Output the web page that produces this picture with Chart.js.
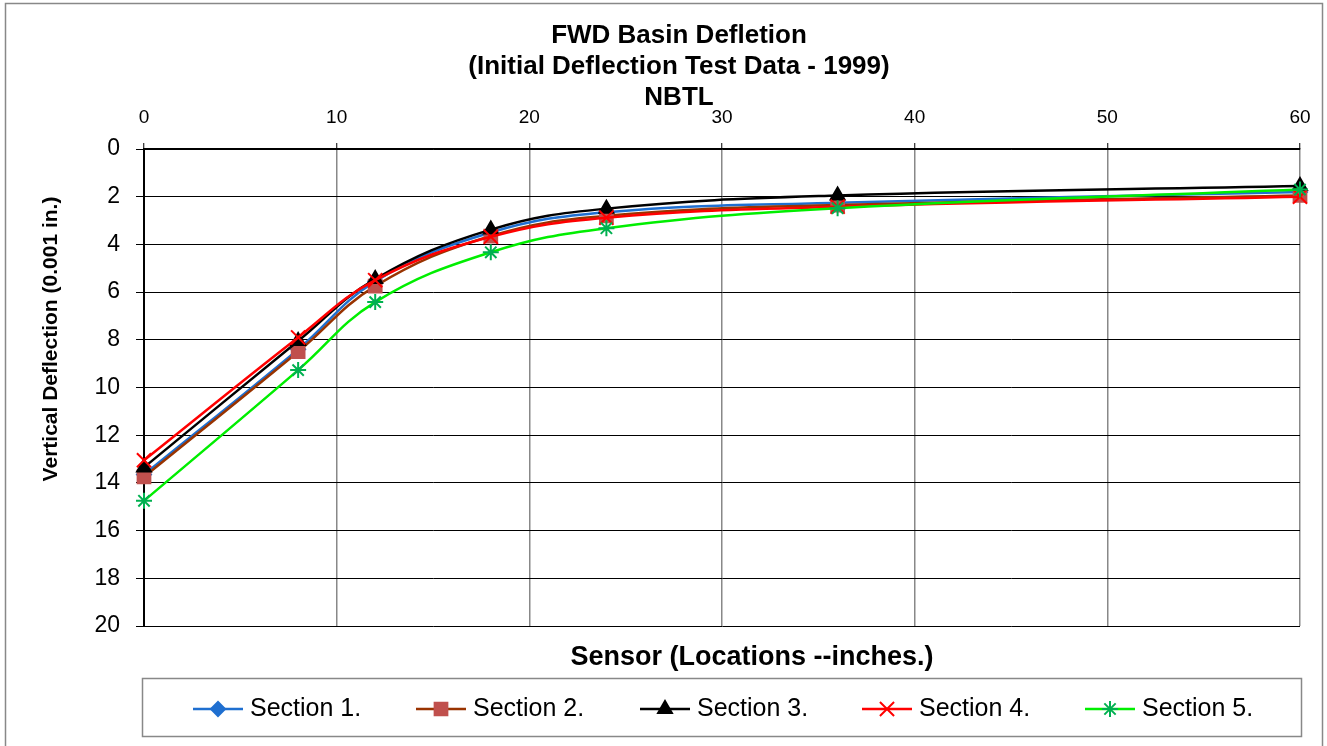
<!DOCTYPE html>
<html>
<head>
<meta charset="utf-8">
<title>FWD Basin Defletion</title>
<script src="https://cdn.jsdelivr.net/npm/chart.js@4/dist/chart.umd.min.js"></script>
<style>
    body { margin: 0; background: #fff; }
    #grafico { display: block; }
</style>
</head>
<body>
<canvas id="grafico" width="1327" height="746"></canvas>
<script>
// Ubicaciones de los sensores (pulgadas)
const sensores = [0, 8, 12, 18, 24, 36, 60];

// Deflexion vertical (0.001 in.) por seccion
const seccion1 = [13.65, 8.4, 5.55, 3.5, 2.65, 2.25, 1.8];
const seccion2 = [13.75, 8.5, 5.75, 3.65, 2.8, 2.35, 1.95];
const seccion3 = [13.35, 8.05, 5.45, 3.38, 2.5, 1.95, 1.55];
const seccion4 = [13.05, 7.9, 5.5, 3.68, 2.88, 2.42, 2.0];
const seccion5 = [14.75, 9.27, 6.42, 4.33, 3.32, 2.48, 1.7];

const nombres = ['Section 1.', 'Section 2.', 'Section 3.', 'Section 4.', 'Section 5.'];
const titulo = ['FWD Basin Defletion', '(Initial Deflection Test Data - 1999)', 'NBTL'];
const tituloX = 'Sensor (Locations --inches.)';
const tituloY = 'Vertical Deflection (0.001 in.)';

const FUENTE = '"Liberation Sans", Arial, sans-serif';

const estilos = [
    { line: '#1f6fd0', fill: '#1f6fd0', point: 'rectRot', radius: 7 },
    { line: '#993300', fill: '#c0504d', point: 'rect', radius: 9 },
    { line: '#000000', fill: '#000000', point: 'triangle', radius: 8 },
    { line: '#ff0000', fill: '#ff0000', point: 'crossRot', radius: 10 },
    { line: '#00ee00', fill: '#00b050', point: 'star', radius: 8 }
];

const series = [seccion1, seccion2, seccion3, seccion4, seccion5];

const datasets = series.map((valores, i) => ({
    label: nombres[i],
    data: sensores.map((x, j) => ({ x: x, y: valores[j] })),
    borderColor: estilos[i].line,
    backgroundColor: estilos[i].fill,
    pointBorderColor: estilos[i].fill,
    pointBackgroundColor: estilos[i].fill,
    pointStyle: estilos[i].point,
    pointRadius: estilos[i].radius,
    pointBorderWidth: 2,
    borderWidth: 2.5,
    tension: 0.4,
    clip: false,
    order: 5 - i
}));

// Titulos, marco exterior y leyenda dibujados a mano
const decoracion = {
    id: 'decoracion',
    beforeDraw(chart) {
        const ctx = chart.ctx;
        ctx.save();
        ctx.fillStyle = '#fff';
        ctx.fillRect(0, 0, chart.width, chart.height);
        ctx.strokeStyle = '#888';
        ctx.lineWidth = 1.5;
        ctx.strokeRect(5.5, 3.5, 1317, 800);
        ctx.restore();
    },
    afterDraw(chart) {
        const ctx = chart.ctx;
        ctx.save();
        ctx.fillStyle = '#000';
        ctx.textAlign = 'center';
        ctx.textBaseline = 'middle';
        ctx.font = 'bold 26px ' + FUENTE;
        [36, 67, 98].forEach((y, i) => ctx.fillText(titulo[i], 679, y));

        ctx.font = 'bold 27px ' + FUENTE;
        ctx.fillText(tituloX, 752, 658);

        ctx.save();
        ctx.translate(51, 339);
        ctx.rotate(-Math.PI / 2);
        ctx.font = 'bold 21px ' + FUENTE;
        ctx.fillText(tituloY, 0, 0);
        ctx.restore();

        // caja de la leyenda
        ctx.strokeStyle = '#888';
        ctx.lineWidth = 1.5;
        ctx.strokeRect(142.5, 678.5, 1159, 58);

        const xs = [193, 416, 640, 862, 1085];
        const yc = 709;
        ctx.font = '25px ' + FUENTE;
        ctx.textAlign = 'left';
        xs.forEach((x0, i) => {
            const e = estilos[i];
            ctx.strokeStyle = e.line;
            ctx.lineWidth = 2.5;
            ctx.beginPath();
            ctx.moveTo(x0, yc);
            ctx.lineTo(x0 + 50, yc);
            ctx.stroke();
            ctx.fillStyle = e.fill;
            ctx.strokeStyle = e.fill;
            ctx.lineWidth = 2;
            if (Chart.helpers && Chart.helpers.drawPoint) {
                Chart.helpers.drawPoint(ctx, { pointStyle: e.point, radius: e.radius, rotation: 0, borderWidth: 2 }, x0 + 25, yc);
            }
            ctx.fillStyle = '#000';
            ctx.fillText(nombres[i], x0 + 57, yc);
        });
        ctx.restore();
    }
};

new Chart(document.getElementById('grafico').getContext('2d'), {
    type: 'line',
    data: { datasets },
    options: {
        responsive: false,
        animation: false,
        layout: { padding: { left: 0, top: 0, right: 27, bottom: 120 } },
        plugins: {
            legend: { display: false },
            title: { display: false },
            tooltip: { enabled: false }
        },
        scales: {
            x: {
                type: 'linear',
                position: 'top',
                min: 0,
                max: 60,
                afterFit: s => { s.height = 149; },
                ticks: { stepSize: 10, color: '#000', padding: 14, font: { family: FUENTE, size: 19 } },
                grid: { color: '#888', lineWidth: 1.5, tickColor: '#000', tickLength: 6, tickWidth: 1 },
                border: { color: '#000', width: 1.5 }
            },
            y: {
                reverse: true,
                min: 0,
                max: 20,
                afterFit: s => { s.width = 144; },
                ticks: { stepSize: 2, color: '#000', padding: 16, font: { family: FUENTE, size: 23 } },
                grid: { color: '#000', lineWidth: 1, tickColor: '#000', tickLength: 8 },
                border: { color: '#000', width: 2 }
            }
        }
    },
    plugins: [decoracion]
});
</script>
</body>
</html>
